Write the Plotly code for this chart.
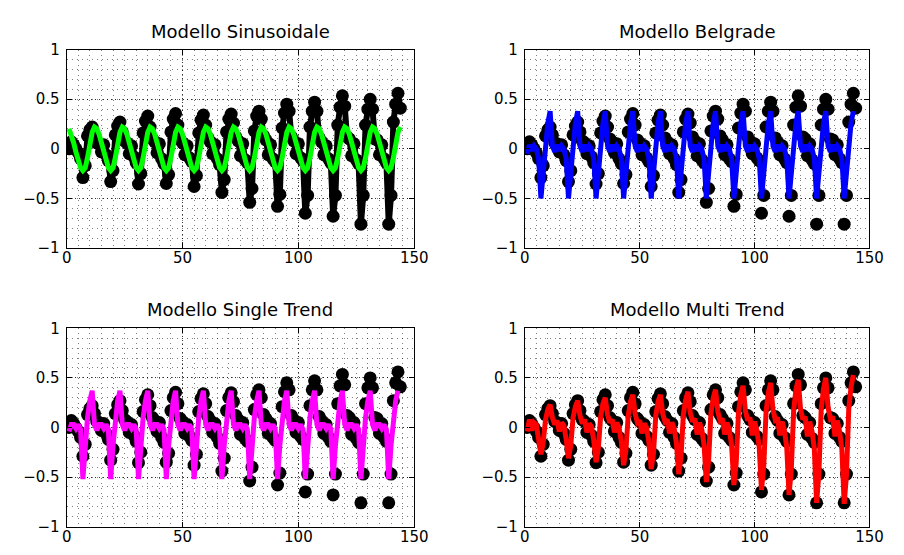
import plotly.graph_objects as go

# ---------------- data ----------------
x_data = list(range(1, 145))
observed = [
    0.00, 0.07, 0.04, 0.00, -0.04, -0.10, -0.29, -0.17, 0.13, 0.19, 0.22, 0.14,
    0.06, 0.05, -0.03, 0.04, -0.06, -0.12, -0.33, -0.22, 0.14, 0.23, 0.27, 0.17,
    0.08, 0.06, -0.05, 0.03, -0.08, -0.14, -0.355, -0.25, 0.16, 0.28, 0.33, 0.22,
    0.10, 0.07, -0.04, 0.05, -0.10, -0.15, -0.35, -0.26, 0.17, 0.30, 0.355, 0.24,
    0.09, 0.06, -0.06, 0.03, -0.09, -0.13, -0.38, -0.27, 0.16, 0.29, 0.34, 0.24,
    0.11, 0.07, -0.05, 0.04, -0.10, -0.16, -0.44, -0.31, 0.17, 0.30, 0.35, 0.26,
    0.12, 0.08, -0.07, 0.05, -0.11, -0.14, -0.54, -0.40, 0.18, 0.33, 0.38, 0.30,
    0.13, 0.09, -0.06, 0.04, -0.10, -0.13, -0.58, -0.46, 0.21, 0.36, 0.45, 0.38,
    0.12, 0.08, -0.05, 0.05, -0.09, -0.12, -0.65, -0.47, 0.22, 0.38, 0.47, 0.38,
    0.11, 0.07, -0.06, 0.03, -0.10, -0.14, -0.68, -0.47, 0.24, 0.42, 0.535, 0.43,
    0.12, 0.10, -0.07, 0.05, -0.11, -0.15, -0.76, -0.47, 0.24, 0.40, 0.50, 0.40,
    0.10, 0.09, -0.06, 0.04, -0.10, -0.14, -0.76, -0.47, 0.27, 0.45, 0.56, 0.41,
]

x_sin = list(range(1, 145))
sinusoidal = [
    0.203, 0.147, 0.062, -0.034, -0.124, -0.190, -0.219, -0.192, -0.089, 0.049, 0.167, 0.220,
    0.203, 0.147, 0.062, -0.034, -0.124, -0.190, -0.219, -0.192, -0.089, 0.049, 0.167, 0.220,
    0.203, 0.147, 0.062, -0.034, -0.124, -0.190, -0.219, -0.192, -0.089, 0.049, 0.167, 0.220,
    0.203, 0.147, 0.062, -0.034, -0.124, -0.190, -0.219, -0.192, -0.089, 0.049, 0.167, 0.220,
    0.203, 0.147, 0.062, -0.034, -0.124, -0.190, -0.219, -0.192, -0.089, 0.049, 0.167, 0.220,
    0.203, 0.147, 0.062, -0.034, -0.124, -0.190, -0.219, -0.192, -0.089, 0.049, 0.167, 0.220,
    0.203, 0.147, 0.062, -0.034, -0.124, -0.190, -0.219, -0.192, -0.089, 0.049, 0.167, 0.220,
    0.203, 0.147, 0.062, -0.034, -0.124, -0.190, -0.219, -0.192, -0.089, 0.049, 0.167, 0.220,
    0.203, 0.147, 0.062, -0.034, -0.124, -0.190, -0.219, -0.192, -0.089, 0.049, 0.167, 0.220,
    0.203, 0.147, 0.062, -0.034, -0.124, -0.190, -0.219, -0.192, -0.089, 0.049, 0.167, 0.220,
    0.203, 0.147, 0.062, -0.034, -0.124, -0.190, -0.219, -0.192, -0.089, 0.049, 0.167, 0.220,
    0.203, 0.147, 0.062, -0.034, -0.124, -0.190, -0.219, -0.192, -0.089, 0.049, 0.167, 0.220,
]

x_model = list(range(1, 144))
belgrade = [
    -0.05, 0.04, -0.02, 0.03, 0.00, -0.10, -0.50, -0.20, 0.06, 0.26, 0.38, 0.03,
    -0.03, 0.04, -0.02, 0.03, 0.00, -0.10, -0.50, -0.20, 0.06, 0.26, 0.38, 0.03,
    -0.03, 0.04, -0.02, 0.03, 0.00, -0.10, -0.50, -0.20, 0.06, 0.26, 0.38, 0.03,
    -0.03, 0.04, -0.02, 0.03, 0.00, -0.10, -0.50, -0.20, 0.06, 0.26, 0.38, 0.03,
    -0.03, 0.04, -0.02, 0.03, 0.00, -0.10, -0.50, -0.20, 0.06, 0.26, 0.38, 0.03,
    -0.03, 0.04, -0.02, 0.03, 0.00, -0.10, -0.50, -0.20, 0.06, 0.26, 0.38, 0.03,
    -0.03, 0.04, -0.02, 0.03, 0.00, -0.10, -0.50, -0.20, 0.06, 0.26, 0.38, 0.03,
    -0.03, 0.04, -0.02, 0.03, 0.00, -0.10, -0.50, -0.20, 0.06, 0.26, 0.38, 0.03,
    -0.03, 0.04, -0.02, 0.03, 0.00, -0.10, -0.50, -0.20, 0.06, 0.26, 0.38, 0.03,
    -0.03, 0.04, -0.02, 0.03, 0.00, -0.10, -0.50, -0.20, 0.06, 0.26, 0.38, 0.03,
    -0.03, 0.04, -0.02, 0.03, 0.00, -0.10, -0.50, -0.20, 0.06, 0.26, 0.38, 0.03,
    -0.03, 0.04, -0.02, 0.03, 0.00, -0.10, -0.50, -0.20, 0.06, 0.26, 0.38,
]

single_trend = [
    -0.04, 0.03, 0.03, -0.01, 0.03, -0.02, -0.52, -0.18, 0.10, 0.27, 0.37, 0.03,
    -0.03, 0.03, 0.03, -0.01, 0.03, -0.02, -0.52, -0.18, 0.10, 0.27, 0.37, 0.03,
    -0.03, 0.03, 0.03, -0.01, 0.03, -0.02, -0.52, -0.18, 0.10, 0.27, 0.37, 0.03,
    -0.03, 0.03, 0.03, -0.01, 0.03, -0.02, -0.52, -0.18, 0.10, 0.27, 0.37, 0.03,
    -0.03, 0.03, 0.03, -0.01, 0.03, -0.02, -0.52, -0.18, 0.10, 0.27, 0.37, 0.03,
    -0.03, 0.03, 0.03, -0.01, 0.03, -0.02, -0.52, -0.18, 0.10, 0.27, 0.37, 0.03,
    -0.03, 0.03, 0.03, -0.01, 0.03, -0.02, -0.52, -0.18, 0.10, 0.27, 0.37, 0.03,
    -0.03, 0.03, 0.03, -0.01, 0.03, -0.02, -0.52, -0.18, 0.10, 0.27, 0.37, 0.03,
    -0.03, 0.03, 0.03, -0.01, 0.03, -0.02, -0.52, -0.18, 0.10, 0.27, 0.37, 0.03,
    -0.03, 0.03, 0.03, -0.01, 0.03, -0.02, -0.52, -0.18, 0.10, 0.27, 0.37, 0.03,
    -0.03, 0.03, 0.03, -0.01, 0.03, -0.02, -0.52, -0.18, 0.10, 0.27, 0.37, 0.03,
    -0.03, 0.03, 0.03, -0.01, 0.03, -0.02, -0.52, -0.18, 0.10, 0.27, 0.37,
]

multi_trend = [
    -0.04, 0.08, -0.03, 0.05, 0.03, -0.10, -0.27, -0.15, 0.08, 0.18, 0.23, 0.10,
    0.03, 0.07, -0.04, 0.05, 0.02, -0.12, -0.31, -0.18, 0.10, 0.21, 0.27, 0.12,
    0.04, 0.08, -0.05, 0.04, 0.01, -0.13, -0.35, -0.21, 0.11, 0.24, 0.30, 0.13,
    0.05, 0.08, -0.05, 0.05, 0.00, -0.14, -0.38, -0.23, 0.12, 0.26, 0.33, 0.14,
    0.05, 0.07, -0.06, 0.04, 0.00, -0.15, -0.42, -0.26, 0.12, 0.26, 0.33, 0.14,
    0.06, 0.08, -0.06, 0.05, -0.01, -0.16, -0.47, -0.29, 0.13, 0.28, 0.36, 0.15,
    0.06, 0.09, -0.07, 0.05, -0.02, -0.17, -0.55, -0.33, 0.14, 0.30, 0.38, 0.16,
    0.07, 0.09, -0.07, 0.05, -0.02, -0.18, -0.58, -0.36, 0.15, 0.33, 0.42, 0.17,
    0.07, 0.10, -0.08, 0.06, -0.03, -0.19, -0.63, -0.39, 0.16, 0.35, 0.45, 0.18,
    0.08, 0.10, -0.08, 0.06, -0.03, -0.20, -0.68, -0.42, 0.17, 0.38, 0.48, 0.19,
    0.08, 0.11, -0.09, 0.06, -0.04, -0.21, -0.76, -0.46, 0.18, 0.39, 0.50, 0.20,
    0.09, 0.11, -0.09, 0.07, -0.04, -0.22, -0.77, -0.48, 0.19, 0.41, 0.53,
]

titles = ["Modello Sinusoidale", "Modello Belgrade", "Modello Single Trend", "Modello Multi Trend"]
x_ticks = [0, 50, 100, 150]
x_tick_text = ["0", "50", "100", "150"]
y_ticks = [-1, -0.5, 0, 0.5, 1]
y_tick_text = ["\u22121", "\u22120.5", "0", "0.5", "1"]

# ---------------- figure ----------------
W, H = 904, 555
FONT = "DejaVu Sans, Liberation Sans, Arial, sans-serif"

# plot boxes in image pixels: (left, right, top, bottom)
boxes = [(63, 418, 42, 247), (531, 883, 42, 247), (63, 418, 330, 535), (531, 883, 330, 535)]

fig = go.Figure()
models = [(x_sin, sinusoidal, "#00ff00"), (x_model, belgrade, "#0000ff"),
          (x_model, single_trend, "#ff00ff"), (x_model, multi_trend, "#ff0000")]

for i, (xm, ym, col) in enumerate(models):
    xa = "x" if i == 0 else f"x{i+1}"
    ya = "y" if i == 0 else f"y{i+1}"
    if i == 0:
        fig.add_trace(go.Scatter(x=x_data, y=observed, mode="lines+markers",
                                 line=dict(color="black", width=6),
                                 marker=dict(color="black", size=13),
                                 xaxis=xa, yaxis=ya, showlegend=False))
    else:
        fig.add_trace(go.Scatter(x=x_data, y=observed, mode="markers",
                                 marker=dict(color="black", size=13),
                                 xaxis=xa, yaxis=ya, showlegend=False))
    fig.add_trace(go.Scatter(x=xm, y=ym, mode="lines",
                             line=dict(color=col, width=5),
                             xaxis=xa, yaxis=ya, showlegend=False))

layout = dict(width=W, height=H, margin=dict(l=0, r=0, t=0, b=0),
              paper_bgcolor="white", plot_bgcolor="white",
              font=dict(family=FONT, size=15, color="black"))
annotations = []
for i, (l, r, t, b) in enumerate(boxes):
    sfx = "" if i == 0 else str(i + 1)
    ax_common = dict(showline=True, linecolor="black", linewidth=1, mirror="allticks",
                     ticks="inside", ticklen=5, tickcolor="black", zeroline=False,
                     showgrid=True, gridcolor="rgba(0,0,0,0.8)", gridwidth=1,
                     griddash="1px,3px", tickfont=dict(family=FONT, size=15))
    layout["xaxis" + sfx] = dict(domain=[l / W, r / W], range=[0, 150],
                                  tickvals=x_ticks, ticktext=x_tick_text,
                                  anchor="y" + sfx, ticklabelstandoff=-4,
                                  minor=dict(dtick=5, showgrid=True, gridcolor="rgba(0,0,0,0.5)",
                                             griddash="1px,4px", gridwidth=1, ticks=""),
                                  **ax_common)
    layout["yaxis" + sfx] = dict(domain=[1 - b / H, 1 - t / H], range=[-1, 1],
                                  tickvals=y_ticks, ticktext=y_tick_text,
                                  anchor="x" + sfx, ticklabelstandoff=3,
                                  minor=dict(dtick=0.1, showgrid=True, gridcolor="rgba(0,0,0,0.5)",
                                             griddash="1px,4px", gridwidth=1, ticks=""),
                                  **ax_common)
    annotations.append(dict(text=titles[i], x=(l + r) / 2 / W, y=1 - (t - 19) / H,
                            xref="paper", yref="paper", showarrow=False,
                            xanchor="center", yanchor="middle",
                            font=dict(family=FONT, size=18, color="black")))
layout["annotations"] = annotations
fig.update_layout(**layout)

# Make the figure fill the browser viewport exactly (no body margin, no scrollbars);
# all positions above are fractions of the figure, so they follow the viewport size.
fit_page = """
var gd = document.getElementById('{plot_id}');
var s = 'margin:0;padding:0;overflow:hidden;width:100%;height:100%;';
document.documentElement.style.cssText = s;
document.body.style.cssText = s;
gd.parentElement.style.cssText = 'margin:0;padding:0;width:100%;height:100%;';
var w = window.innerWidth, h = window.innerHeight;
gd.style.width = w + 'px'; gd.style.height = h + 'px';
Plotly.relayout(gd, {width: w, height: h});
"""
fig.write_html("out.html", post_script=fit_page)
